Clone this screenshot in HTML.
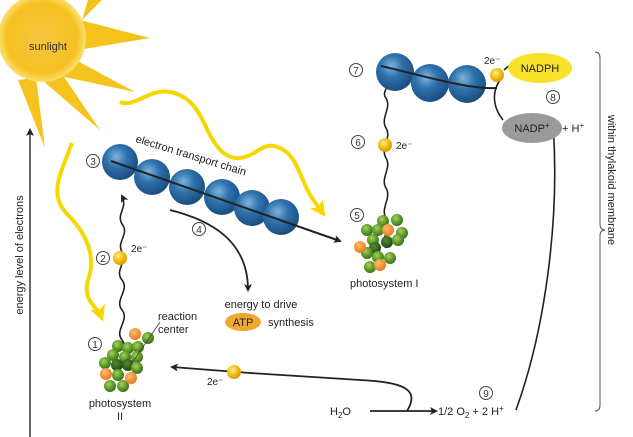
<!DOCTYPE html>
<html><head><meta charset="utf-8"><style>
html,body{margin:0;padding:0;background:#fff;}
svg{display:block;font-family:"Liberation Sans",sans-serif;}
</style></head><body>
<svg width="633" height="437" viewBox="0 0 633 437" xmlns="http://www.w3.org/2000/svg">
<defs>
<radialGradient id="sun" cx="50%" cy="50%" r="50%">
<stop offset="0" stop-color="#f7c640"/><stop offset="0.8" stop-color="#f5c020"/><stop offset="1" stop-color="#fbe070"/></radialGradient>
<radialGradient id="blue" cx="40%" cy="35%" r="65%">
<stop offset="0" stop-color="#7fb4dc"/><stop offset="0.45" stop-color="#2f73ad"/><stop offset="1" stop-color="#1a4d80"/></radialGradient>
<radialGradient id="yb" cx="40%" cy="35%" r="65%">
<stop offset="0" stop-color="#fff0a0"/><stop offset="0.5" stop-color="#f6c21a"/><stop offset="1" stop-color="#d99a00"/></radialGradient>
<radialGradient id="gb" cx="40%" cy="35%" r="65%">
<stop offset="0" stop-color="#a8d060"/><stop offset="0.6" stop-color="#5c9a28"/><stop offset="1" stop-color="#3d7018"/></radialGradient>
<radialGradient id="ob" cx="40%" cy="35%" r="65%">
<stop offset="0" stop-color="#ffc070"/><stop offset="1" stop-color="#e67a1a"/></radialGradient>
<radialGradient id="db" cx="40%" cy="35%" r="65%">
<stop offset="0" stop-color="#5a8a30"/><stop offset="1" stop-color="#1d4a10"/></radialGradient>
<marker id="ah" markerWidth="8" markerHeight="8" refX="6" refY="4" orient="auto" markerUnits="userSpaceOnUse"><path d="M0,0 L8,4 L0,8 L2,4 z" fill="#222"/></marker>
<marker id="yah" markerWidth="16" markerHeight="16" refX="10" refY="8" orient="auto" markerUnits="userSpaceOnUse"><path d="M0,0 L16,8 L0,16 L4,8 z" fill="#f5d800"/></marker>
</defs>

<!-- sun rays -->
<g fill="#f6c21e">
<polygon points="80,20 150,38 78,50"/>
<polygon points="72,58 135,92 60,76"/>
<polygon points="58,68 100,130 42,80"/>
<polygon points="36,78 45,148 18,80"/>
<polygon points="88,0 102,0 82,20"/>
</g>
<circle cx="42" cy="38" r="44" fill="url(#sun)"/>
<text x="48" y="50" font-size="11" fill="#333" text-anchor="middle">sunlight</text>

<!-- energy axis -->
<line x1="30" y1="437" x2="30" y2="130" stroke="#333" stroke-width="1.5" marker-end="url(#ah)"/>
<text transform="translate(23,255) rotate(-90)" font-size="11" fill="#222" text-anchor="middle">energy level of electrons</text>

<!-- yellow light waves -->
<path d="M120,102 C135,108 150,88 170,92 C190,96 198,110 205,125 C212,140 222,160 240,158 C258,156 262,140 280,148 C298,156 300,180 312,198 L322,212" fill="none" stroke="#f5d800" stroke-width="4" marker-end="url(#yah)"/>
<path d="M72,143 C60,175 48,195 68,215 C88,235 96,258 88,280 C82,300 98,308 101,316" fill="none" stroke="#f5d800" stroke-width="4" marker-end="url(#yah)"/>

<!-- ETC -->
<g>
<circle cx="120" cy="162" r="18" fill="url(#blue)"/>
<circle cx="152" cy="177" r="18" fill="url(#blue)"/>
<circle cx="187" cy="187" r="18" fill="url(#blue)"/>
<circle cx="222" cy="197" r="18" fill="url(#blue)"/>
<circle cx="252" cy="208" r="18" fill="url(#blue)"/>
<circle cx="281" cy="217" r="18" fill="url(#blue)"/>
</g>
<line x1="111" y1="161" x2="340" y2="241" stroke="#222" stroke-width="2" marker-end="url(#ah)"/>
<text transform="translate(135,142) rotate(17)" font-size="11" fill="#222">electron transport chain</text>

<!-- numbered circles -->
<g font-size="10" fill="#333" text-anchor="middle" stroke-width="1">
<circle cx="93" cy="161" r="6.5" fill="#fff" stroke="#444"/><text x="93" y="165">3</text>
<circle cx="199" cy="229" r="6.5" fill="#fff" stroke="#444"/><text x="199" y="233">4</text>
<circle cx="103" cy="258" r="6.5" fill="#fff" stroke="#444"/><text x="103" y="262">2</text>
<circle cx="95" cy="344" r="6.5" fill="#fff" stroke="#444"/><text x="95" y="348">1</text>
<circle cx="357" cy="215" r="6.5" fill="#fff" stroke="#444"/><text x="357" y="219">5</text>
<circle cx="358" cy="142" r="6.5" fill="#fff" stroke="#444"/><text x="358" y="146">6</text>
<circle cx="356" cy="70" r="6.5" fill="#fff" stroke="#444"/><text x="356" y="74">7</text>
<circle cx="553" cy="97" r="6.5" fill="#fff" stroke="#444"/><text x="553" y="101">8</text>
<circle cx="486" cy="393" r="6.5" fill="#fff" stroke="#444"/><text x="486" y="397">9</text>
</g>

<!-- curve 4 to ATP -->
<path d="M170,210 C210,220 248,240 248,290" fill="none" stroke="#222" stroke-width="1.8" marker-end="url(#ah)"/>
<text x="261" y="308" font-size="11" fill="#222" text-anchor="middle">energy to drive</text>
<ellipse cx="243" cy="322" rx="18" ry="9" fill="#f0a830"/>
<text x="243" y="326" font-size="11" fill="#222" text-anchor="middle">ATP</text>
<text x="268" y="326" font-size="11" fill="#222">synthesis</text>

<!-- PSII wavy line -->
<path d="M126,370 C118,360 130,350 122,340 C114,330 130,320 122,310 C114,300 130,290 122,280 C114,270 128,262 122,252 C116,242 130,234 122,224 C116,214 128,208 122,196" fill="none" stroke="#222" stroke-width="1.6" marker-end="url(#ah)"/>
<circle cx="120" cy="258" r="7" fill="url(#yb)"/>
<text x="131" y="252" font-size="10" fill="#222">2e⁻</text>

<!-- PSII cluster -->
<g>
<circle cx="148" cy="338" r="6" fill="url(#gb)"/><circle cx="118" cy="346" r="6" fill="url(#gb)"/>
<circle cx="128" cy="348" r="6" fill="url(#gb)"/><circle cx="138" cy="347" r="6" fill="url(#gb)"/>
<circle cx="113" cy="355" r="6" fill="url(#gb)"/><circle cx="125" cy="357" r="6" fill="url(#gb)"/>
<circle cx="137" cy="357" r="6" fill="url(#gb)"/><circle cx="105" cy="363" r="6" fill="url(#gb)"/>
<circle cx="117" cy="365" r="6" fill="url(#db)"/><circle cx="128" cy="365" r="6" fill="url(#db)"/>
<circle cx="137" cy="368" r="6" fill="url(#gb)"/><circle cx="118" cy="375" r="6" fill="url(#gb)"/>
<circle cx="110" cy="386" r="6" fill="url(#gb)"/><circle cx="123" cy="386" r="6" fill="url(#gb)"/>
<circle cx="135" cy="334" r="6" fill="url(#ob)"/><circle cx="106" cy="374" r="6" fill="url(#ob)"/>
<circle cx="131" cy="378" r="6" fill="url(#ob)"/>
</g>
<line x1="132" y1="363" x2="160" y2="322" stroke="#444" stroke-width="0.8"/>
<text x="158" y="320" font-size="11" fill="#222">reaction</text>
<text x="158" y="333" font-size="11" fill="#222">center</text>
<text x="120" y="407" font-size="11" fill="#222" text-anchor="middle">photosystem</text>
<text x="120" y="420" font-size="11" fill="#222" text-anchor="middle">II</text>

<!-- water electrons -->
<path d="M407,411 C420,390 405,382 360,380 L250,373 L172,367" fill="none" stroke="#222" stroke-width="1.8" marker-end="url(#ah)"/>
<circle cx="234" cy="372" r="7" fill="url(#yb)"/>
<text x="207" y="385" font-size="10" fill="#222">2e⁻</text>
<text x="330" y="415" font-size="11" fill="#222">H<tspan font-size="8" dy="3">2</tspan><tspan dy="-3">O</tspan></text>
<line x1="370" y1="411" x2="436" y2="411" stroke="#222" stroke-width="1.8" marker-end="url(#ah)"/>
<text x="438" y="415" font-size="11" fill="#222">1/2 O<tspan font-size="8" dy="3">2</tspan><tspan dy="-3"> + 2 H</tspan><tspan font-size="8" dy="-4">+</tspan></text>
<path d="M516,410 C545,330 560,220 553,124" fill="none" stroke="#222" stroke-width="1.6" marker-end="url(#ah)"/>

<!-- PSI wavy line -->
<path d="M386,248 C380,238 392,228 386,218 C380,208 392,198 386,188 C380,178 392,168 386,158 C380,148 392,138 386,128 C380,118 392,108 386,98 C381,92 390,88 386,80" fill="none" stroke="#222" stroke-width="1.6" marker-end="url(#ah)"/>
<circle cx="385" cy="145" r="7" fill="url(#yb)"/>
<text x="396" y="149" font-size="10" fill="#222">2e⁻</text>

<!-- PSI cluster -->
<g>
<circle cx="397" cy="220" r="6" fill="url(#gb)"/><circle cx="383" cy="221" r="6" fill="url(#gb)"/>
<circle cx="367" cy="230" r="6" fill="url(#gb)"/><circle cx="378" cy="230" r="6" fill="url(#gb)"/>
<circle cx="402" cy="233" r="6" fill="url(#gb)"/><circle cx="373" cy="240" r="6" fill="url(#gb)"/>
<circle cx="387" cy="242" r="6" fill="url(#db)"/><circle cx="398" cy="240" r="6" fill="url(#gb)"/>
<circle cx="375" cy="248" r="6" fill="url(#db)"/><circle cx="367" cy="253" r="6" fill="url(#gb)"/>
<circle cx="378" cy="257" r="6" fill="url(#gb)"/><circle cx="390" cy="258" r="6" fill="url(#gb)"/>
<circle cx="370" cy="267" r="6" fill="url(#gb)"/>
<circle cx="388" cy="230" r="6" fill="url(#ob)"/><circle cx="360" cy="247" r="6" fill="url(#ob)"/>
<circle cx="380" cy="265" r="6" fill="url(#ob)"/>
</g>
<text x="350" y="287" font-size="11" fill="#222">photosystem I</text>

<!-- second chain -->
<circle cx="395" cy="72" r="19" fill="url(#blue)"/>
<circle cx="430" cy="83" r="19" fill="url(#blue)"/>
<circle cx="467" cy="84" r="19" fill="url(#blue)"/>
<path d="M381,66 C420,75 470,90 497,88" fill="none" stroke="#222" stroke-width="2"/>
<path d="M500,80 C490,95 495,110 503,120" fill="none" stroke="#222" stroke-width="1.6"/>
<circle cx="497" cy="75" r="7" fill="url(#yb)"/>
<text x="484" y="64" font-size="10" fill="#222">2e⁻</text>
<path d="M504,70 C510,64 514,63 520,65" fill="none" stroke="#222" stroke-width="1.6" marker-end="url(#ah)"/>
<ellipse cx="540" cy="68" rx="32" ry="15" fill="#f7e12a"/>
<text x="540" y="72" font-size="11" fill="#222" text-anchor="middle">NADPH</text>
<ellipse cx="532" cy="128" rx="30" ry="15" fill="#9a9a9a"/>
<text x="532" y="132" font-size="11" fill="#222" text-anchor="middle">NADP<tspan font-size="8" dy="-4">+</tspan></text>
<text x="562" y="132" font-size="11" fill="#222">+ H<tspan font-size="8" dy="-4">+</tspan></text>

<!-- bracket -->
<path d="M595,52 Q600,52 600,58 L600,224 Q600,230 605,230 Q600,230 600,236 L600,405 Q600,411 595,411" fill="none" stroke="#555" stroke-width="1"/>
<text transform="translate(608,180) rotate(90)" font-size="11" fill="#222" text-anchor="middle">within thylakoid membrane</text>
</svg>
</body></html>
